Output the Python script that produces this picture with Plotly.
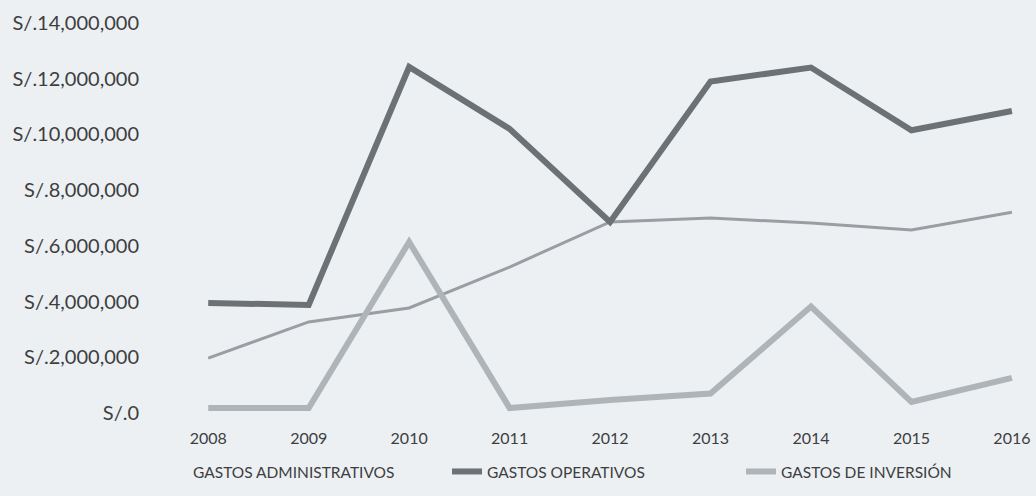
import plotly.graph_objects as go

# Años y series de gastos (soles)
years = [2008, 2009, 2010, 2011, 2012, 2013, 2014, 2015, 2016]
gastos_administrativos = [1970000, 3270000, 3770000, 5240000, 6860000, 7000000, 6820000, 6570000, 7210000]
gastos_operativos = [3950000, 3880000, 12420000, 10200000, 6860000, 11900000, 12400000, 10150000, 10840000]
gastos_inversion = [180000, 180000, 6140000, 180000, 470000, 700000, 3820000, 400000, 1260000]

y_ticks = [0, 2000000, 4000000, 6000000, 8000000, 10000000, 12000000, 14000000]
y_labels = ["S/.0", "S/.2,000,000", "S/.4,000,000", "S/.6,000,000",
            "S/.8,000,000", "S/.10,000,000", "S/.12,000,000", "S/.14,000,000"]

BG = "#edf0f2"
FONT = "Lato"
TEXT = "#3c3e42"

fig = go.Figure()

fig.add_trace(go.Scatter(
    x=years, y=gastos_administrativos, mode="lines",
    line=dict(color="#9a9ea3", width=3), showlegend=False,
))
# entrada de leyenda sin muestra visible para la serie administrativa
fig.add_trace(go.Scatter(
    x=[None], y=[None], mode="lines", name="GASTOS ADMINISTRATIVOS",
    line=dict(color=BG, width=3),
))
fig.add_trace(go.Scatter(
    x=years, y=gastos_operativos, mode="lines", name="GASTOS OPERATIVOS",
    line=dict(color="#6c7176", width=6),
))
fig.add_trace(go.Scatter(
    x=years, y=gastos_inversion, mode="lines", name="GASTOS DE INVERSIÓN",
    line=dict(color="#afb4b9", width=6),
))

fig.update_layout(
    width=1036, height=496,
    margin=dict(l=158, r=4, t=23, b=83),
    paper_bgcolor=BG, plot_bgcolor=BG,
    font=dict(family=FONT, size=15, color=TEXT),
    legend=dict(
        orientation="h", x=-0.0057, xanchor="left", y=-0.151, yanchor="middle",
        bgcolor="rgba(0,0,0,0)", font=dict(size=15.5, color=TEXT),
        itemwidth=30, entrywidth=249, entrywidthmode="pixels",
    ),
    xaxis=dict(
        range=[2007.5, 2016.2], tickvals=years, ticktext=[str(y) for y in years],
        showgrid=False, zeroline=False, showline=False, ticks="",
        ticklabelstandoff=14, tickfont=dict(size=16),
    ),
    yaxis=dict(
        range=[0, 14000000], tickvals=y_ticks, ticktext=y_labels,
        showgrid=False, zeroline=False, showline=False, ticks="",
        ticklabelstandoff=18, tickfont=dict(size=20),
    ),
)

fig.write_html("out.html")
